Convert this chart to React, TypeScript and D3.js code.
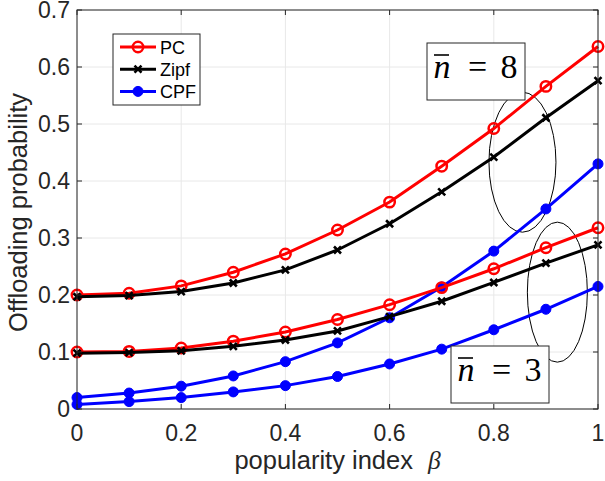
import React from "react";
import * as d3 from "d3";

const beta = [0, 0.1, 0.2, 0.3, 0.4, 0.5, 0.6, 0.7, 0.8, 0.9, 1.0];
const pc8 = [0.2, 0.203, 0.216, 0.24, 0.272, 0.314, 0.363, 0.426, 0.492, 0.566, 0.636];
const zipf8 = [0.197, 0.199, 0.206, 0.221, 0.244, 0.279, 0.325, 0.381, 0.442, 0.511, 0.576];
const cpf8 = [0.02, 0.028, 0.04, 0.058, 0.083, 0.116, 0.16, 0.214, 0.277, 0.351, 0.43];
const pc3 = [0.1, 0.101, 0.107, 0.119, 0.135, 0.157, 0.183, 0.213, 0.246, 0.283, 0.318];
const zipf3 = [0.098, 0.099, 0.102, 0.11, 0.121, 0.137, 0.162, 0.189, 0.222, 0.256, 0.288];
const cpf3 = [0.008, 0.013, 0.02, 0.03, 0.041, 0.057, 0.079, 0.105, 0.139, 0.175, 0.215];
const xTicks = [0, 0.2, 0.4, 0.6, 0.8, 1];
const yTicks = [0, 0.1, 0.2, 0.3, 0.4, 0.5, 0.6, 0.7];
const legendNames = ["PC", "Zipf", "CPF"];
const annotations = ["8", "3"];

const W = 605, H = 481;
const L = 77, R = 598, T = 10, B = 409;

export default function App() {
  const x = d3.scaleLinear().domain([0, 1]).range([L, R]);
  const y = d3.scaleLinear().domain([0, 0.7]).range([B, T]);
  const line = d3.line<number>().x((_, i) => x(beta[i])).y((v) => y(v));
  const font = "Helvetica, 'Liberation Sans', Arial, sans-serif";
  const serif = "'Liberation Serif', 'DejaVu Serif', serif";

  const series = [
    { d: pc8, c: "#ff0000", m: "o" },
    { d: zipf8, c: "#000000", m: "x" },
    { d: cpf8, c: "#0000ff", m: "d" },
    { d: pc3, c: "#ff0000", m: "o" },
    { d: zipf3, c: "#000000", m: "x" },
    { d: cpf3, c: "#0000ff", m: "d" },
  ];

  const marker = (m: string, c: string, cx: number, cy: number, k: string) => {
    if (m === "o")
      return <circle key={k} cx={cx} cy={cy} r={5.2} fill="none" stroke={c} strokeWidth={2.5} />;
    if (m === "x")
      return (
        <path key={k} d={`M${cx - 3.5},${cy - 3.5}L${cx + 3.5},${cy + 3.5}M${cx - 3.5},${cy + 3.5}L${cx + 3.5},${cy - 3.5}`} stroke={c} strokeWidth={2.6} />
      );
    return <circle key={k} cx={cx} cy={cy} r={5} fill={c} stroke={c} strokeWidth={1} />;
  };

  const legendItems = [
    { name: legendNames[0], c: "#ff0000", m: "o" },
    { name: legendNames[1], c: "#000000", m: "x" },
    { name: legendNames[2], c: "#0000ff", m: "d" },
  ];

  const boxes = [
    { bx: 427, by: 43, v: annotations[0] },
    { bx: 451, by: 346, v: annotations[1] },
  ];

  return (
    <svg width={W} height={H} style={{ display: "block", position: "absolute", left: 0, top: 0 }} fontFamily={font}>
      <rect x={0} y={0} width={W} height={H} fill="#fff" />
      {/* grid */}
      {xTicks.map((t) => (
        <line key={"gx" + t} x1={x(t)} x2={x(t)} y1={T} y2={B} stroke="#e8e8e8" strokeWidth={1} />
      ))}
      {yTicks.map((t) => (
        <line key={"gy" + t} x1={L} x2={R} y1={y(t)} y2={y(t)} stroke="#e8e8e8" strokeWidth={1} />
      ))}
      {/* ellipses */}
      <ellipse cx={x(0.855)} cy={y(0.433)} rx={33.5} ry={70} fill="none" stroke="#000" strokeWidth={1} />
      <ellipse cx={x(0.922)} cy={y(0.205)} rx={30} ry={70} fill="none" stroke="#000" strokeWidth={1} />
      {/* series */}
      {series.map((s, si) => (
        <g key={si}>
          <path d={line(s.d) || ""} fill="none" stroke={s.c} strokeWidth={3} />
          {s.d.map((v, i) => marker(s.m, s.c, x(beta[i]), y(v), si + "-" + i))}
        </g>
      ))}
      {/* frame */}
      <rect x={L} y={T} width={R - L} height={B - T} fill="none" stroke="#262626" strokeWidth={1} />
      {xTicks.map((t) => (
        <g key={"tx" + t}>
          <line x1={x(t)} x2={x(t)} y1={B} y2={B - 5} stroke="#262626" />
          <line x1={x(t)} x2={x(t)} y1={T} y2={T + 5} stroke="#262626" />
          <text x={x(t)} y={B + 32} textAnchor="middle" fontSize={23} fill="#262626">{t}</text>
        </g>
      ))}
      {yTicks.map((t) => (
        <g key={"ty" + t}>
          <line x1={L} x2={L + 5} y1={y(t)} y2={y(t)} stroke="#262626" />
          <line x1={R} x2={R - 5} y1={y(t)} y2={y(t)} stroke="#262626" />
          <text x={L - 7} y={y(t) + 8} textAnchor="end" fontSize={23} fill="#262626">{t}</text>
        </g>
      ))}
      {/* axis labels */}
      <text x={413} y={469} textAnchor="end" fontSize={25.5} fill="#262626">popularity index</text>
      <text x={428} y={469} fontSize={25.5} fontFamily={serif} fontStyle="italic" fill="#262626">β</text>
      <text transform={`translate(27,${(T + B) / 2 + 3}) rotate(-90)`} textAnchor="middle" fontSize={25.5} fill="#262626">
        Offloading probability
      </text>
      {/* legend */}
      <rect x={113} y={34} width={87} height={71} fill="#fff" stroke="#262626" strokeWidth={1} />
      {legendItems.map((it, i) => {
        const ly = 47 + i * 22.2;
        return (
          <g key={it.name}>
            <line x1={120} x2={156} y1={ly} y2={ly} stroke={it.c} strokeWidth={3} />
            {marker(it.m, it.c, 138, ly, "lg" + i)}
            <text x={160} y={ly + 6.5} fontSize={18} fill="#000">{it.name}</text>
          </g>
        );
      })}
      {/* annotations */}
      {boxes.map((a) => (
        <g key={a.v}>
          <rect x={a.bx} y={a.by} width={98} height={57} fill="#fff" stroke="#262626" strokeWidth={1} />
          <text x={a.bx + 15} y={a.by + 35} textAnchor="middle" fontSize={34} fontFamily={serif} fontStyle="italic" fill="#000">n</text>
          <line x1={a.bx + 7} x2={a.bx + 22} y1={a.by + 12} y2={a.by + 12} stroke="#000" strokeWidth={1.6} />
          <text x={a.bx + 50.5} y={a.by + 35} textAnchor="middle" fontSize={34} fontFamily={serif} fill="#000">=</text>
          <text x={a.bx + 82} y={a.by + 35} textAnchor="middle" fontSize={34} fontFamily={serif} fill="#000">{a.v}</text>
        </g>
      ))}
    </svg>
  );
}
